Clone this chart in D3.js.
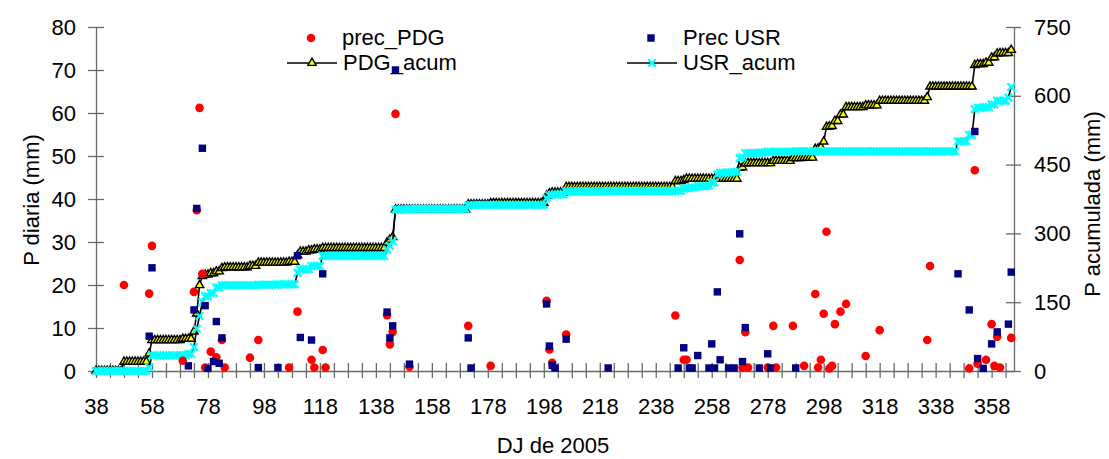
<!DOCTYPE html>
<html><head><meta charset="utf-8">
<script src="https://cdn.jsdelivr.net/npm/d3@7"></script>
<style>
body{margin:0;background:#fff}
svg{display:block}
text{font-family:"Liberation Sans",Arial,sans-serif;fill:#000}
</style>
</head><body>
<svg id="c" width="1109" height="459"></svg>
<script>
// ---- data ----
const pdgDays=[48,57,58,69,73,74,75,76,77,79,81,83,84,93,96,107,110,115,116,119,120,142,143,144,145,150,171,179,199,200,201,206,245,248,249,268,269,270,271,278,280,281,287,291,295,296,297,298,299,300,301,302,304,306,313,318,335,336,350,352,353,356,358,359,360,361,365];
const pdgVals=[20.0,18.0,29.1,2.4,18.4,37.4,61.2,22.6,0.8,4.5,3.2,7.2,0.8,3.1,7.2,0.8,13.8,2.6,0.8,4.9,0.8,13.0,6.2,9.1,59.8,1.0,10.5,1.2,16.3,5.0,1.9,8.5,12.9,2.6,2.6,25.8,0.8,9.0,0.8,0.8,10.5,0.8,10.5,1.2,17.9,0.8,2.6,13.3,32.4,0.6,1.2,10.9,13.8,15.6,3.5,9.5,7.2,24.4,0.6,46.7,1.7,2.6,10.9,1.2,8.0,0.8,7.7];

const usrDays=[57,58,71,73,74,76,77,78,80,81,82,83,96,103,110,111,115,119,142,143,144,145,150,171,172,199,200,201,202,206,221,246,248,250,251,253,257,258,259,260,261,264,266,268,269,270,275,278,279,288,346,350,352,353,355,358,360,364,365];
const usrVals=[8.1,24.0,1.2,14.2,37.8,51.8,15.2,0.6,2.2,11.5,1.8,7.7,0.8,0.8,26.8,7.8,7.2,22.6,13.7,7.7,10.5,70.0,1.6,7.7,0.7,15.6,5.8,1.3,0.7,7.4,0.7,0.7,5.4,0.7,0.7,3.6,0.7,6.3,0.7,18.4,2.6,0.7,0.7,31.9,2.2,10.1,0.7,4.0,0.7,0.7,22.6,14.2,55.7,2.9,0.6,6.3,9.1,10.9,23.0];

// cumulative series: day on which the running total changes, and the new total (mm)
const pdgAcumDays=[38,48,57,58,69,73,74,75,76,77,79,81,83,84,93,96,107,110,111,114,116,119,142,143,144,145,171,179,199,200,201,206,245,248,249,268,269,270,271,280,287,291,295,296,297,298,299,300,301,302,304,306,313,318,335,336,352,353,356,358,359,360,361,365];
const pdgAcumVals=[0,20,38,67,70,86,125,187,207,210,213,217,224,226,229,236,238,252,260,263,265,268,280,286,292,352,363,366,382,387,389,401,414,416,419,443,444,452,453,458,464,465,484,485,488,500,532,533,534,545,559,575,579,589,597,620,667,669,672,683,684,692,693,700];

const usrAcumDays=[38,57,58,71,73,74,75,76,77,79,81,83,96,103,110,111,115,119,142,143,144,145,150,171,172,199,200,201,202,206,221,246,248,250,251,253,257,258,259,260,261,264,266,268,269,270,275,278,288,346,350,352,353,355,358,360,364,365];
const usrAcumVals=[0,8,34,37,52,92,120,150,163,170,182,187,188,189,214,222,229,251,265,273,283,352,353,361,362,377,383,384,385,391,392,393,398,399,400,403,404,410,411,429,432,433,434,464,466,475,476,478,479,501,515,571,574,575,581,589,596,619];

const xTickLabels=[38,58,78,98,118,138,158,178,198,218,238,258,278,298,318,338,358];
const yLeftTicks=[0,10,20,30,40,50,60,70,80];
const yRightTicks=[0,150,300,450,600,750];
const firstDay=38, lastDay=365;

// ---- helpers ----
function holdDaily(days, vals){
  const out=[]; let j=0;
  for(let d=firstDay; d<=lastDay; d++){
    while(j+1<days.length && days[j+1]<=d) j++;
    out.push({d:d, v:vals[j]});
  }
  return out;
}
const pdgAcum=holdDaily(pdgAcumDays,pdgAcumVals);
const usrAcum=holdDaily(usrAcumDays,usrAcumVals);
const pdgPts=pdgDays.map((d,i)=>({d:d,v:pdgVals[i]}));
const usrPts=usrDays.map((d,i)=>({d:d,v:usrVals[i]}));

const svg=d3.select("#c");
const x=d3.scaleLinear().domain([38,366]).range([96,1014]);
const yL=d3.scaleLinear().domain([0,80]).range([371,27]);
const yR=d3.scaleLinear().domain([0,750]).range([371,27]);

const AX="#6a6a6a", FS="22px";
function styleAxis(g){
  g.selectAll("path,line").attr("stroke",AX).attr("stroke-width",1.3);
  g.selectAll("text").style("font-size",FS).attr("fill","#000");
}
const minorTicks=d3.range(38,364,5);

// bottom axis (crossing ticks)
svg.append("g").attr("transform","translate(0,371)")
  .call(d3.axisBottom(x).tickValues(minorTicks).tickSize(7).tickSizeOuter(0).tickPadding(20)
    .tickFormat(d=>xTickLabels.includes(d)?d:""))
  .call(styleAxis);
svg.append("g").attr("transform","translate(0,371)")
  .call(d3.axisTop(x).tickValues(minorTicks).tickSize(8).tickSizeOuter(0).tickFormat(""))
  .call(g=>g.select(".domain").remove()).call(styleAxis);

// left axis
svg.append("g").attr("transform","translate(96,0)")
  .call(d3.axisLeft(yL).tickValues(yLeftTicks).tickSize(8).tickSizeOuter(0).tickPadding(12))
  .call(styleAxis);
svg.append("g").attr("transform","translate(96,0)")
  .call(d3.axisRight(yL).tickValues(yLeftTicks).tickSize(8).tickSizeOuter(0).tickFormat(""))
  .call(g=>g.select(".domain").remove()).call(styleAxis);

// right axis
svg.append("g").attr("transform","translate(1014,0)")
  .call(d3.axisRight(yR).tickValues(yRightTicks).tickSize(7).tickSizeOuter(0).tickPadding(13))
  .call(styleAxis);
svg.append("g").attr("transform","translate(1014,0)")
  .call(d3.axisLeft(yR).tickValues(yRightTicks).tickSize(8).tickSizeOuter(0).tickFormat(""))
  .call(g=>g.select(".domain").remove()).call(styleAxis);

// axis titles
svg.append("text").attr("transform","translate(39,200) rotate(-90)").attr("text-anchor","middle")
  .style("font-size",FS).text("P diaria (mm)");
svg.append("text").attr("transform","translate(1100,204) rotate(-90)").attr("text-anchor","middle")
  .style("font-size",FS).text("P acumulada (mm)");
svg.append("text").attr("x",553).attr("y",453).attr("text-anchor","middle")
  .style("font-size",FS).text("DJ de 2005");

// ---- cumulative series ----
const lineR=d3.line().x(d=>x(d.d)).y(d=>yR(d.v));
const tri=d3.symbol().type(d3.symbolTriangle).size(30);
const crossPath="M-3.8,-3.8L3.8,3.8M-3.8,3.8L3.8,-3.8";

svg.append("path").datum(pdgAcum).attr("d",lineR).attr("fill","none").attr("stroke","#000").attr("stroke-width",1.6);
svg.append("g").selectAll("path").data(pdgAcum).join("path")
  .attr("d",tri).attr("transform",d=>`translate(${x(d.d)},${yR(d.v)})`)
  .attr("fill","#ffff00").attr("stroke","#000").attr("stroke-width",1.4);

svg.append("path").datum(usrAcum).attr("d",lineR).attr("fill","none").attr("stroke","#000").attr("stroke-width",1.6);
svg.append("g").selectAll("path").data(usrAcum).join("path")
  .attr("d",crossPath).attr("transform",d=>`translate(${x(d.d)},${yR(d.v)})`)
  .attr("fill","none").attr("stroke","#00ffff").attr("stroke-width",2.2);

// ---- daily points ----
svg.append("g").selectAll("circle").data(pdgPts).join("circle")
  .attr("cx",d=>x(d.d)).attr("cy",d=>yL(d.v)).attr("r",4.3).attr("fill","#ff0000");
svg.append("g").selectAll("rect").data(usrPts).join("rect")
  .attr("x",d=>x(d.d)-3.7).attr("y",d=>yL(d.v)-3.7).attr("width",7.4).attr("height",7.4).attr("fill","#000080");

// ---- legend ----
const lg=svg.append("g");
lg.append("circle").attr("cx",311).attr("cy",38).attr("r",4.3).attr("fill","#ff0000");
lg.append("text").attr("x",342).attr("y",45).style("font-size",FS).text("prec_PDG");
lg.append("rect").attr("x",647.3).attr("y",34.3).attr("width",7.4).attr("height",7.4).attr("fill","#000080");
lg.append("text").attr("x",683).attr("y",45).style("font-size",FS).text("Prec USR");
lg.append("line").attr("x1",287).attr("x2",337).attr("y1",63).attr("y2",63).attr("stroke","#000").attr("stroke-width",1.6);
lg.append("path").attr("d",tri).attr("transform","translate(312,63)").attr("fill","#ffff00").attr("stroke","#000").attr("stroke-width",1.4);
lg.append("text").attr("x",343).attr("y",70).style("font-size",FS).text("PDG_acum");
lg.append("line").attr("x1",627).attr("x2",677).attr("y1",63).attr("y2",63).attr("stroke","#000").attr("stroke-width",1.6);
lg.append("path").attr("d",crossPath).attr("transform","translate(652,63)").attr("fill","none").attr("stroke","#00ffff").attr("stroke-width",2.2);
lg.append("text").attr("x",683).attr("y",70).style("font-size",FS).text("USR_acum");
</script>
</body></html>
